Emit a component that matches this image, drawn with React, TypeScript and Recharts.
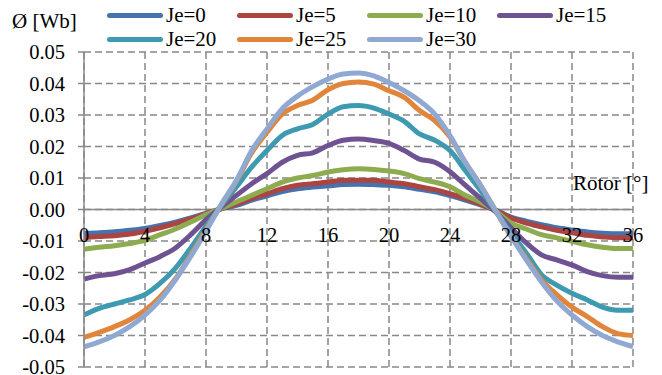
import React from "react";
import { LineChart, Line, XAxis, YAxis, CartesianGrid, ReferenceLine } from "recharts";

const rotorDeg = [0, 1, 2, 3, 4, 5, 6, 7, 8, 9, 10, 11, 12, 13, 14, 15, 16, 17, 18, 19, 20, 21, 22, 23, 24, 25, 26, 27, 28, 29, 30, 31, 32, 33, 34, 35, 36];

const je0 = [-0.0076, -0.0074, -0.0071, -0.0066, -0.006, -0.0051, -0.004, -0.0027, -0.0012,
  0.0002,
  0.0013, 0.003, 0.0043, 0.0057, 0.0066, 0.0071, 0.0075, 0.0079, 0.008, 0.0079, 0.0077, 0.0072, 0.0064, 0.0056, 0.0044, 0.003, 0.0015,
  -0.0002,
  -0.0024, -0.0037, -0.0048, -0.0058, -0.0065, -0.0071, -0.0075, -0.0077, -0.0077];

const je5 = [-0.0089, -0.0086, -0.0083, -0.0078, -0.0069, -0.0058, -0.0045, -0.003, -0.0013,
  0.0003,
  0.0017, 0.0035, 0.005, 0.0066, 0.0077, 0.0082, 0.0087, 0.0093, 0.0093, 0.0093, 0.0087, 0.0082, 0.0072, 0.0063, 0.005, 0.0035, 0.0017,
  -0.0003,
  -0.0027, -0.0043, -0.0055, -0.0066, -0.0074, -0.0082, -0.0087, -0.009, -0.009];

const je10 = [-0.0126, -0.012, -0.0115, -0.0108, -0.0098, -0.008, -0.0062, -0.004, -0.0016,
  0.0004,
  0.0024, 0.0045, 0.0066, 0.0087, 0.01, 0.0108, 0.0119, 0.0126, 0.0129, 0.0127, 0.0122, 0.0114, 0.0098, 0.0087, 0.0072, 0.0045, 0.0024,
  -0.0005,
  -0.0043, -0.0062, -0.008, -0.009, -0.0101, -0.0112, -0.012, -0.0124, -0.0124];

const je15 = [-0.0221, -0.021, -0.0204, -0.0191, -0.017, -0.0149, -0.0122, -0.008, -0.0032,
  0.0008,
  0.0045, 0.0082, 0.0114, 0.015, 0.0172, 0.018, 0.0203, 0.022, 0.0224, 0.0219, 0.021, 0.0187, 0.016, 0.015, 0.012, 0.0077, 0.0035,
  -0.0008,
  -0.0058, -0.0106, -0.0144, -0.016, -0.0176, -0.0197, -0.021, -0.0215, -0.0215];

const je20 = [-0.0335, -0.0314, -0.03, -0.0287, -0.027, -0.0234, -0.0186, -0.0122, -0.0053,
  0.0012,
  0.0072, 0.0135, 0.0187, 0.0235, 0.0256, 0.027, 0.0303, 0.0326, 0.033, 0.0322, 0.0303, 0.028, 0.024, 0.022, 0.0187, 0.0124, 0.006,
  -0.0006,
  -0.0074, -0.0138, -0.0207, -0.024, -0.0266, -0.0287, -0.031, -0.032, -0.032];

const je25 = [-0.0406, -0.039, -0.0372, -0.035, -0.032, -0.0277, -0.022, -0.0144, -0.0064,
  0.0015,
  0.009, 0.018, 0.0245, 0.0303, 0.033, 0.0347, 0.038, 0.04, 0.0405, 0.0398, 0.0377, 0.0356, 0.0314, 0.0282, 0.023, 0.015, 0.0077,
  -0.0004,
  -0.0085, -0.0155, -0.0223, -0.027, -0.031, -0.034, -0.0372, -0.0394, -0.04];

const je30 = [-0.0436, -0.042, -0.04, -0.0372, -0.0335, -0.0287, -0.0223, -0.0149, -0.0069,
  0.0016,
  0.0093, 0.0187, 0.0256, 0.032, 0.036, 0.039, 0.0414, 0.043, 0.0433, 0.0424, 0.0403, 0.0377, 0.0345, 0.0303, 0.0235, 0.015, 0.0077,
  -0.0004,
  -0.0085, -0.016, -0.023, -0.029, -0.0335, -0.0372, -0.04, -0.042, -0.0435];

const seriesNames = ["Je=0", "Je=5", "Je=10", "Je=15", "Je=20", "Je=25", "Je=30"];
const seriesKeys = ["je0", "je5", "je10", "je15", "je20", "je25", "je30"];
const seriesColors = ["#4573AE", "#AC4441", "#8DAC50", "#6E5291", "#3D9AB0", "#E0853A", "#8FA9D3"];
const seriesValues = [je0, je5, je10, je15, je20, je25, je30];

const xTicks = [0, 4, 8, 12, 16, 20, 24, 28, 32, 36];
const yTicks = [-0.05, -0.04, -0.03, -0.02, -0.01, 0, 0.01, 0.02, 0.03, 0.04, 0.05];

const yAxisTitle = "Ø [Wb]";
const xAxisTitle = "Rotor [°]";

const data = rotorDeg.map((deg, i) => {
  const row: Record<string, number> = { deg };
  seriesKeys.forEach((k, s) => {
    row[k] = seriesValues[s][i];
  });
  return row;
});

const FONT = "Liberation Serif, Tinos, Times New Roman, Times, DejaVu Serif, serif";
const GRID = "#888888";

const renderXTick = (props: any) => {
  const { x, payload } = props;
  return (
    <text x={x} y={227} textAnchor="middle" dominantBaseline="central" fontFamily={FONT} fontSize={20.5} fill="#000">
      {payload.value}
    </text>
  );
};

export default function App() {
  return (
    <div style={{ position: "relative", width: 650, height: 367, fontFamily: FONT }}>
      <LineChart
        width={650}
        height={367}
        data={data}
        margin={{ top: 44, right: 25, bottom: 4, left: 10 }}
      >
        <CartesianGrid stroke={GRID} strokeWidth={1.5} strokeDasharray="7 4" />
        <XAxis
          dataKey="deg"
          type="number"
          domain={[0, 36]}
          ticks={xTicks}
          axisLine={false}
          tickLine={false}
          height={4}
          tick={renderXTick}
          interval={0}
        />
        <YAxis
          type="number"
          domain={[-0.05, 0.05]}
          ticks={yTicks}
          width={66}
          interval={0}
          tickFormatter={(v: number) => v.toFixed(2)}
          axisLine={{ stroke: GRID, strokeWidth: 1.5 }}
          tickLine={{ stroke: GRID, strokeWidth: 1.5 }}
          tickSize={6}
          tickMargin={13}
          tick={{ fontFamily: FONT, fontSize: 20.5, fill: "#000" }}
        />
        <ReferenceLine y={0} stroke={GRID} strokeWidth={1.5} />
        {seriesKeys.map((k, s) => (
          <Line
            key={k}
            dataKey={k}
            name={seriesNames[s]}
            type="monotone"
            stroke={seriesColors[s]}
            strokeWidth={5}
            dot={false}
            activeDot={false}
            isAnimationActive={false}
          />
        ))}
      </LineChart>
      <div style={{ position: "absolute", left: 4, top: 3.4, fontSize: 21, lineHeight: 1, color: "#000", whiteSpace: "nowrap" }}>
        {yAxisTitle}
      </div>
      <div style={{ position: "absolute", left: 565, top: 165.4, fontSize: 21, lineHeight: 1, color: "#000", whiteSpace: "nowrap" }}>
        {xAxisTitle}
      </div>
      {seriesNames.map((name, s) => {
        const col = s % 4;
        const row = Math.floor(s / 4);
        return (
          <div
            key={name}
            style={{
              position: "absolute",
              left: 99 + col * 130,
              top: -2.8 + row * 23.6,
              display: "flex",
              alignItems: "center",
              whiteSpace: "nowrap",
            }}
          >
            <span style={{ display: "inline-block", width: 56, height: 5, borderRadius: 3, background: seriesColors[s] }} />
            <span style={{ marginLeft: 3, fontSize: 21, lineHeight: 1, color: "#000" }}>{name}</span>
          </div>
        );
      })}
    </div>
  );
}
